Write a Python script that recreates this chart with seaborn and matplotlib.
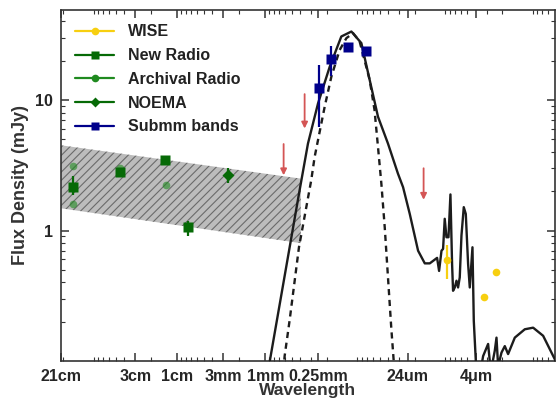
import numpy as np
import seaborn as sns
import matplotlib
matplotlib.use('Agg')
import matplotlib.pyplot as plt
from matplotlib.lines import Line2D
from matplotlib.ticker import FixedLocator, NullFormatter, LogLocator

# frequencies in GHz, fluxes in mJy
C_CM = 29.9792458  # c in cm*GHz

# radio power-law band (upper / lower edge)
band_freq = [1.42, 760]
band_hi = [4.5, 2.5]
band_lo = [1.48, 0.8]

new_radio_freq = [1.92, 6.7, 21.4, 39.7]
new_radio_flux = [2.14, 2.81, 3.5, 1.06]
new_radio_elo = [0.28, 0.0, 0.0, 0.15]
new_radio_ehi = [0.46, 0.0, 0.0, 0.13]

archival_freq = [1.92, 1.92, 6.7, 22.0]
archival_flux = [3.1, 1.61, 3.0, 2.22]

noema_freq = [114]
noema_flux = [2.65]
noema_err = [0.35]

submm_freq = [1213, 1694, 2600, 4245]
submm_flux = [12.4, 20.7, 25.4, 23.8]
submm_elo = [6.2, 5.4, 0.0, 0.0]
submm_ehi = [6.1, 5.3, 0.0, 0.0]

wise_freq = [35500, 92700, 128300]
wise_flux = [0.598, 0.309, 0.478]
wise_elo = [0.17, 0.0, 0.0]
wise_ehi = [0.18, 0.0, 0.0]

# upper limits: arrow from top down to limit
ul_freq = [485, 841, 19000]
ul_top = [4.6, 11.1, 3.0]
ul_lim = [2.65, 6.05, 1.72]

# full SED model (solid)
model_freq = [300, 336, 725, 918, 1194, 1623, 2200, 2864, 3720, 4620, 5750, 7470,
              9700, 11090, 13220, 16440, 19600, 22340, 27050, 28510, 30360, 31650,
              33050, 34570, 36460, 38380, 40070, 41110, 42990, 44960, 46880, 48990,
              51240, 54430, 57380, 60970, 63700, 68370, 70770, 74640, 82800, 90360,
              103000, 110500, 122700, 128300, 133900, 146300, 159500, 173900, 207300,
              269400, 335100, 435500, 591700, 680000]
model_flux = [0.063, 0.098, 1.91, 4.64, 9.4, 18, 30.7, 33.5, 27.3, 14.3, 7.45, 4.64,
              2.73, 2.15, 1.34, 0.70, 0.56, 0.56, 0.617, 0.49, 0.70, 0.723,
              1.23, 0.888, 0.888, 1.89, 0.554, 0.345, 0.366, 0.412, 0.366, 0.437,
              0.915, 1.51, 1.34, 0.554, 0.366, 0.744, 0.203, 0.1, 0.077, 0.109,
              0.135, 0.083, 0.12, 0.151, 0.091, 0.116, 0.130, 0.113, 0.151,
              0.175, 0.18, 0.156, 0.103, 0.08]

# cold dust component (dashed)
dust_freq = [470, 498, 567, 725, 1000, 1093, 1422, 1694, 2108, 2512, 2990, 3550,
             4620, 5250, 5750, 6280, 6860, 8140, 8700, 9200]
dust_flux = [0.07, 0.109, 0.204, 0.744, 2.43, 3.66, 8.88, 15.1, 24.2, 29.8, 32.6, 28.2,
             14.3, 8.4, 4.37, 2.29, 1.06, 0.18, 0.098, 0.06]

tick_labels = ['21cm', '3cm', '1cm', '3mm', '1mm', '0.25mm', '24um', '4\u03bcm']
tick_wave_cm = [21, 3, 1, 0.3, 0.1, 0.025, 0.0024, 0.0004]

sns.set_style('ticks')
plt.rcParams['font.family'] = ['Liberation Sans', 'DejaVu Sans']
plt.rcParams['font.weight'] = 'bold'
plt.rcParams['hatch.color'] = '#6a6a6a'
plt.rcParams['hatch.linewidth'] = 0.8

fig = plt.figure(figsize=(5.56, 4.01), dpi=100)
ax = fig.add_axes([0.1097, 0.0998, 0.888, 0.8753])
ax.set_xscale('log')
ax.set_yscale('log')

# radio band
ax.fill_between(band_freq, band_lo, band_hi, facecolor='#bcbcbc', edgecolor='#6a6a6a',
                hatch='////', linewidth=0, zorder=1)

# model curves
sns.lineplot(x=model_freq, y=model_flux, ax=ax, color='#1c1c1c', lw=1.7,
             sort=False, estimator=None, zorder=3)
sns.lineplot(x=dust_freq, y=dust_flux, ax=ax, color='#1c1c1c', lw=1.7,
             sort=False, estimator=None, zorder=3)
ax.lines[-1].set_dashes([2.6, 2.0])

# data points
ax.errorbar(archival_freq, archival_flux, fmt='o', color='#1f8a1f', ms=5.5,
            alpha=0.6, mec='none', zorder=4)
ax.errorbar(new_radio_freq, new_radio_flux, yerr=[new_radio_elo, new_radio_ehi],
            fmt='s', color='#066a06', ms=6.5, elinewidth=1.6, capsize=0, mec='none', zorder=5)
ax.errorbar(noema_freq, noema_flux, yerr=noema_err, fmt='D', color='#066a06', ms=6,
            elinewidth=1.6, capsize=0, mec='none', zorder=5)
ax.errorbar(submm_freq, submm_flux, yerr=[submm_elo, submm_ehi], fmt='s',
            color='#00008b', ms=6.5, elinewidth=1.6, capsize=0, mec='none', zorder=5)
ax.errorbar(wise_freq, wise_flux, yerr=[wise_elo, wise_ehi], fmt='o', color='#f7cf10',
            ms=5.5, elinewidth=1.6, capsize=0, mec='none', zorder=5)

# upper limits
for f, top, lim in zip(ul_freq, ul_top, ul_lim):
    ax.annotate('', xy=(f, lim), xytext=(f, top),
                arrowprops=dict(arrowstyle='-|>', color='#d45555', lw=1.3,
                                mutation_scale=9, shrinkA=0, shrinkB=0), zorder=4)

ax.set_xlim(1.42, 5.9e5)
ax.set_ylim(0.1, 49)

# ticks: labelled wavelengths as majors, wavelength log minors elsewhere
major_f = [C_CM / w for w in tick_wave_cm]
ax.xaxis.set_major_locator(FixedLocator(major_f))
ax.set_xticklabels(tick_labels)
minor_f = []
for n in range(-5, 3):
    for k in range(2, 10):
        f = C_CM / (k * 10.0 ** n)
        if 1.43 < f < 5.9e5 and min(abs(np.log10(f / m)) for m in major_f) > 0.01:
            minor_f.append(f)
ax.xaxis.set_minor_locator(FixedLocator(minor_f))
ax.xaxis.set_minor_formatter(NullFormatter())

ax.yaxis.set_major_locator(FixedLocator([1, 10]))
ax.set_yticklabels(['1', '10'])
ax.yaxis.set_minor_locator(LogLocator(subs=np.arange(2, 10)))
ax.yaxis.set_minor_formatter(NullFormatter())

ax.tick_params(which='both', direction='in', top=True, right=True, color='#333333')
ax.tick_params(which='major', length=6, width=1.1, labelsize=11.5, pad=6)
ax.tick_params(which='minor', length=3, width=0.8)
for lab in ax.get_xticklabels() + ax.get_yticklabels():
    lab.set_fontweight('bold')
for sp in ax.spines.values():
    sp.set_color('#333333')
    sp.set_linewidth(1.2)

ax.set_xlabel('Wavelength', fontsize=12.5, fontweight='bold', color='#333333', labelpad=-1)
ax.set_ylabel('Flux Density (mJy)', fontsize=13, fontweight='bold', color='#333333', labelpad=4)

handles = [
    Line2D([], [], color='#f7cf10', marker='o', ms=5.5, lw=1.6, mec='none'),
    Line2D([], [], color='#066a06', marker='s', ms=6, lw=1.6, mec='none'),
    Line2D([], [], color='#1f8a1f', marker='o', ms=5.5, lw=1.6, mec='none'),
    Line2D([], [], color='#066a06', marker='D', ms=5.5, lw=1.6, mec='none'),
    Line2D([], [], color='#00008b', marker='s', ms=6, lw=1.6, mec='none'),
]
labels = ['WISE', 'New Radio', 'Archival Radio', 'NOEMA', 'Submm bands']
leg = ax.legend(handles, labels, loc='upper left', frameon=False,
                prop={'size': 11.5, 'weight': 'bold'}, handlelength=2.4,
                labelspacing=0.55, borderaxespad=0.5, handletextpad=0.9)
for t in leg.get_texts():
    t.set_color('#222222')

fig.savefig('out.png', dpi=100)
